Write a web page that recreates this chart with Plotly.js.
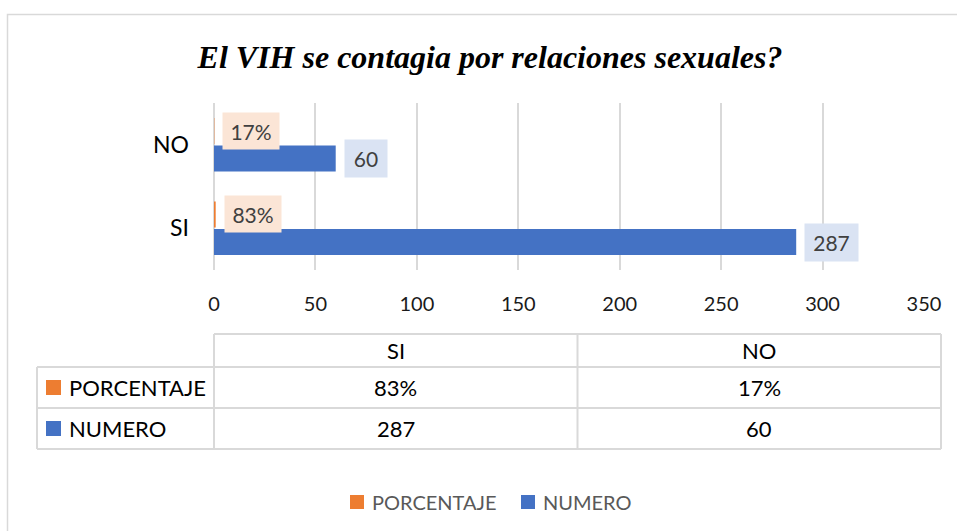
<!DOCTYPE html>
<html>
<head>
<meta charset="utf-8">
<script src="https://cdn.plot.ly/plotly-3.0.1.min.js"></script>
<style>html,body{margin:0;padding:0;background:#fff}#chart{width:957px;height:531px}</style>
</head>
<body>
<div id="chart"></div>
<script>
// ---- data ----
const categories = ['SI', 'NO'];
const numero = [287, 60];
const porcentaje = [0.83, 0.17];
const porcentajeLabels = ['83%', '17%'];
const numeroLabels = ['287', '60'];
const seriesNames = ['PORCENTAJE', 'NUMERO'];
const xTicks = [0, 50, 100, 150, 200, 250, 300, 350];
const titleText = 'El VIH se contagia por relaciones sexuales?';

// ---- styling ----
const ORANGE = '#ED7D31', BLUE = '#4472C4';
const ORANGE_BG = '#FBE5D6', BLUE_BG = '#DAE3F3';
const GRID = '#D9D9D9';
const FONT = 'Lato, "Liberation Sans", sans-serif';

// plot area in pixels
const L = 214, R = 924, T = 103, B = 270;
const xp = px => (px - L) / (R - L);
const yp = py => (B - py) / (B - T);

const traces = [
  {type: 'bar', orientation: 'h', name: seriesNames[1], y: categories, x: numero,
   marker: {color: BLUE}, hoverinfo: 'skip', showlegend: false},
  {type: 'bar', orientation: 'h', name: seriesNames[0], y: categories, x: porcentaje,
   marker: {color: ORANGE}, hoverinfo: 'skip', showlegend: false}
];

const bargap = 0.34;
const off = (1 - bargap) / 4;

const annotations = [];
categories.forEach((c, i) => {
  annotations.push({x: porcentaje[i], y: i + off, xref: 'x', yref: 'y', text: porcentajeLabels[i],
    showarrow: false, xanchor: 'left', yanchor: 'middle', xshift: 8,
    bgcolor: ORANGE_BG, width: porcentajeLabels[i].length * 11 + 23, height: 36, borderpad: 0,
    font: {family: FONT, size: 21, color: '#404040'}});
  annotations.push({x: numero[i], y: i - off, xref: 'x', yref: 'y', text: numeroLabels[i],
    showarrow: false, xanchor: 'left', yanchor: 'middle', xshift: 8,
    bgcolor: BLUE_BG, width: numeroLabels[i].length * 11 + 20, height: 37, borderpad: 0,
    font: {family: FONT, size: 21, color: '#404040'}});
});

// ---- data table ----
const cols = [37, 214, 577.5, 941];
const rows = [334, 367, 408, 449];
const shapes = [];
const line = (x0, y0, x1, y1) => shapes.push({type: 'line', xref: 'paper', yref: 'paper',
  x0: xp(x0), y0: yp(y0), x1: xp(x1), y1: yp(y1), line: {color: GRID, width: 2}});
line(cols[1], rows[0], cols[3], rows[0]);
for (let r = 1; r < rows.length; r++) line(cols[0], rows[r], cols[3], rows[r]);
line(cols[0], rows[1], cols[0], rows[3]);
for (let c = 1; c < cols.length; c++) line(cols[c], rows[0], cols[c], rows[3]);

const tfont = {family: FONT, size: 22, color: '#000'};
const rowCenter = r => (rows[r] + rows[r + 1]) / 2;
const colCenter = c => (cols[c] + cols[c + 1]) / 2;
categories.forEach((c, i) => {
  annotations.push({xref: 'paper', yref: 'paper', x: xp(colCenter(i + 1)), y: yp(rowCenter(0)),
    text: c, showarrow: false, xanchor: 'center', yanchor: 'middle', font: tfont});
  annotations.push({xref: 'paper', yref: 'paper', x: xp(colCenter(i + 1)), y: yp(rowCenter(1)),
    text: porcentajeLabels[i], showarrow: false, xanchor: 'center', yanchor: 'middle', font: tfont});
  annotations.push({xref: 'paper', yref: 'paper', x: xp(colCenter(i + 1)), y: yp(rowCenter(2)),
    text: numeroLabels[i], showarrow: false, xanchor: 'center', yanchor: 'middle', font: tfont});
});
const seriesColors = [ORANGE, BLUE];
seriesNames.forEach((n, k) => {
  const cy = rowCenter(k + 1);
  shapes.push({type: 'rect', xref: 'paper', yref: 'paper', x0: xp(46), x1: xp(61),
    y0: yp(cy - 7.5), y1: yp(cy + 7.5), fillcolor: seriesColors[k], line: {width: 0}});
  annotations.push({xref: 'paper', yref: 'paper', x: xp(67), y: yp(cy), text: n, showarrow: false,
    xanchor: 'left', yanchor: 'middle', font: tfont});
});

// ---- bottom legend ----
const legendX = [350, 521];
const legendY = 502;
seriesNames.forEach((n, k) => {
  shapes.push({type: 'rect', xref: 'paper', yref: 'paper', x0: xp(legendX[k]), x1: xp(legendX[k] + 14),
    y0: yp(legendY - 7), y1: yp(legendY + 7), fillcolor: seriesColors[k], line: {width: 0}});
  annotations.push({xref: 'paper', yref: 'paper', x: xp(legendX[k] + 20), y: yp(legendY), text: n,
    showarrow: false, xanchor: 'left', yanchor: 'middle',
    font: {family: FONT, size: 20, color: '#595959'}});
});

// chart border
shapes.push({type: 'rect', xref: 'paper', yref: 'paper', layer: 'below',
  x0: xp(7.5), y0: yp(14.5), x1: xp(1100), y1: yp(700), line: {color: GRID, width: 1.5}});

const layout = {
  width: 957, height: 531,
  margin: {l: L, r: 957 - R, t: T, b: 531 - B},
  paper_bgcolor: '#fff', plot_bgcolor: '#fff',
  title: {text: '<b><i>' + titleText + '</i></b>', x: 490 / 957, xanchor: 'center', xref: 'container',
    y: 1 - 57 / 531, yanchor: 'middle', yref: 'container',
    font: {family: '"Liberation Serif", "Times New Roman", serif', size: 32, color: '#000'}},
  barmode: 'group', bargap: bargap, bargroupgap: 0.06,
  xaxis: {range: [0, 350], tickvals: xTicks, showgrid: true, gridcolor: GRID, gridwidth: 2,
    zeroline: true, zerolinecolor: GRID, zerolinewidth: 2, showline: false, ticks: '',
    ticklabelstandoff: 20, tickfont: {family: FONT, size: 20, color: '#1a1a1a'}, fixedrange: true},
  yaxis: {type: 'category', categoryorder: 'array', categoryarray: categories, showgrid: false,
    zeroline: false, showline: false, ticks: '', ticklabelstandoff: 24,
    tickfont: {family: FONT, size: 23, color: '#000'}, fixedrange: true},
  showlegend: false,
  annotations: annotations,
  shapes: shapes
};

Plotly.newPlot('chart', traces, layout, {displayModeBar: false, staticPlot: true});
</script>
</body>
</html>
